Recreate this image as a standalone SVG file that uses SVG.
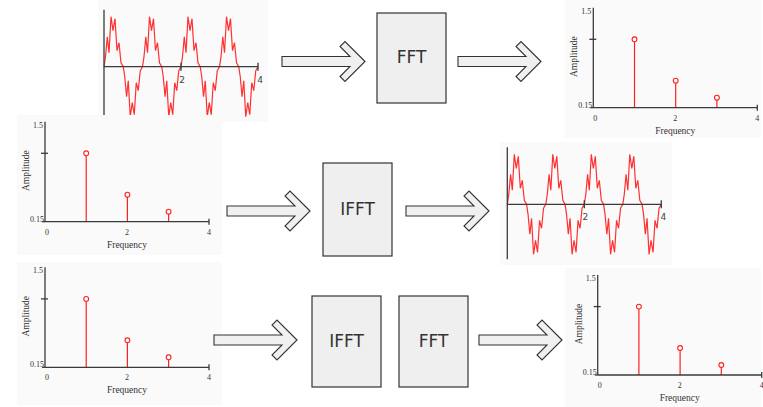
<svg xmlns="http://www.w3.org/2000/svg" width="763" height="407" viewBox="0 0 763 407">
<style>
.panel{fill:#fafafa;stroke:none}
.ax{stroke:#3a3a3a;stroke-width:1.3;fill:none}
.wave{fill:none;stroke:#ff3030;stroke-width:1.2;stroke-linejoin:miter}
.stem{stroke:#ff2020;stroke-width:1.2}
.dot{fill:#fff;stroke:#ff2020;stroke-width:1.1}
.ser{font-family:"Liberation Serif","Times New Roman",serif;fill:#333}
.sm{font-size:8px}
.lab{font-size:9.5px}
.wl{font-family:"DejaVu Sans","Liberation Sans",sans-serif;font-size:9px;fill:#444}
.box{fill:#efefef;stroke:#333;stroke-width:1.2}
.bt{font-family:"DejaVu Sans","Liberation Sans",sans-serif;font-size:17px;fill:#333;text-anchor:middle;dominant-baseline:central}
.arr{fill:#f0f0f0;stroke:#333;stroke-width:1.1;stroke-linejoin:miter}
</style>
<defs>
<path id="period" d="M0,0 L1.5,-10 L3.3,-30 L5,-14 L7,-50 L9,-36 L11,-48 L13,-16 L15,-24 L17,-4 L19.25,0 L20.75,10 L22.55,30 L24.25,14 L26.25,50 L28.25,36 L30.25,48 L32.25,16 L34.25,24 L36.25,4 L38.5,0"/>
<g id="waveplot">
<use href="#period" class="wave"/>
<use href="#period" class="wave" x="38.5"/>
<use href="#period" class="wave" x="77"/>
<use href="#period" class="wave" x="115.5"/>
<line class="ax" x1="0" y1="-57" x2="0" y2="55"/>
<line class="ax" x1="0" y1="0" x2="154" y2="0"/>
<line class="ax" x1="77" y1="-4" x2="77" y2="4"/>
<line class="ax" x1="154" y1="-4" x2="154" y2="4"/>
<text class="wl" x="78" y="16" text-anchor="middle">2</text>
<text class="wl" x="156" y="16" text-anchor="middle">4</text>
</g>
<g id="specplot">
<line class="stem" x1="41.2" y1="0" x2="41.2" y2="-66"/>
<circle class="dot" cx="41.2" cy="-68.4" r="2.4"/>
<line class="stem" x1="82.4" y1="0" x2="82.4" y2="-24.6"/>
<circle class="dot" cx="82.4" cy="-27" r="2.4"/>
<line class="stem" x1="123.6" y1="0" x2="123.6" y2="-7.6"/>
<circle class="dot" cx="123.6" cy="-10" r="2.4"/>
<line class="ax" x1="0" y1="-100" x2="0" y2="0"/>
<line class="ax" x1="0" y1="0" x2="164" y2="0"/>
<line class="ax" x1="164" y1="-3" x2="164" y2="3"/>
<line class="ax" x1="-4" y1="-68.4" x2="3" y2="-68.4"/>
<line class="ax" x1="-3" y1="0" x2="0" y2="0"/>
<text class="ser sm" x="-2" y="-94" text-anchor="end">1.5</text>
<text class="ser sm" x="-1" y="0" text-anchor="end">0.15</text>
<text class="ser sm" x="2" y="13" text-anchor="middle">0</text>
<text class="ser sm" x="82" y="13" text-anchor="middle">2</text>
<text class="ser sm" x="164" y="13" text-anchor="middle">4</text>
<text class="ser lab" x="82" y="26" text-anchor="middle">Frequency</text>
<text class="ser lab" transform="translate(-16,-51) rotate(-90)" text-anchor="middle">Amplitude</text>
</g>
<polygon id="arrow" points="0,0 -20,-20 -25,-15 -15,-5 -83,-5 -83,5 -15,5 -25,15 -20,20"/>
</defs>

<g id="wave-top">
<rect class="panel" x="98" y="0" width="170" height="122"/>
<use href="#waveplot" transform="translate(104,66.7)"/>
</g>
<g id="spec-top">
<rect class="panel" x="565" y="0" width="196" height="138"/>
<use href="#specplot" transform="translate(593.3,107.7)"/>
</g>
<g id="spec-mid">
<rect class="panel" x="17" y="115" width="205" height="140"/>
<use href="#specplot" transform="translate(45,221.7)"/>
</g>
<g id="wave-mid">
<rect class="panel" x="500" y="142" width="172" height="123"/>
<use href="#waveplot" transform="translate(507.3,204.3)"/>
</g>
<g id="spec-bot-left">
<rect class="panel" x="17" y="262" width="205" height="143"/>
<use href="#specplot" transform="translate(45,367.3)"/>
</g>
<g id="spec-bot-right">
<rect class="panel" x="565" y="268" width="196" height="139"/>
<use href="#specplot" transform="translate(597.7,375)"/>
</g>

<g id="fft-top">
<rect class="box" x="377" y="13" width="69" height="90"/>
<text class="bt" x="411.5" y="57">FFT</text>
</g>
<g id="ifft-mid">
<rect class="box" x="323" y="163" width="69" height="93"/>
<text class="bt" x="357.5" y="209">IFFT</text>
</g>
<g id="ifft-bot">
<rect class="box" x="312" y="296" width="69" height="91"/>
<text class="bt" x="346.5" y="341">IFFT</text>
</g>
<g id="fft-bot">
<rect class="box" x="399" y="296" width="69" height="91"/>
<text class="bt" x="433.5" y="341">FFT</text>
</g>

<g id="connectors">
<use href="#arrow" class="arr" transform="translate(365,61.5)"/>
<use href="#arrow" class="arr" transform="translate(541,61.5)"/>
<use href="#arrow" class="arr" transform="translate(310,211)"/>
<use href="#arrow" class="arr" transform="translate(489,211)"/>
<use href="#arrow" class="arr" transform="translate(297,340)"/>
<use href="#arrow" class="arr" transform="translate(562,340)"/>
</g>
</svg>
